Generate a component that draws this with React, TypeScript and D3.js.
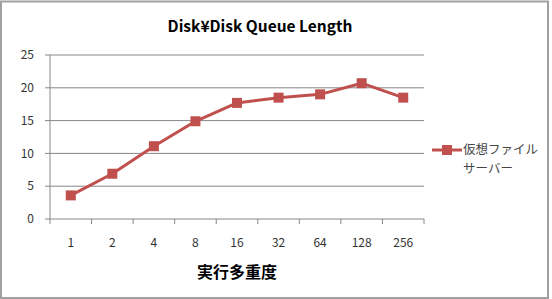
import React from "react";
import * as d3 from "d3";

const categories = ["1", "2", "4", "8", "16", "32", "64", "128", "256"];
const values = [3.6, 6.9, 11.1, 14.9, 17.7, 18.5, 19.0, 20.7, 18.5];
const yTicks = [0, 5, 10, 15, 20, 25];
const seriesName = ["仮想ファイル", "サーバー"];
const title = "Disk¥Disk Queue Length";
const xTitle = "実行多重度";

const W = 552;
const H = 299;
const color = "#C0504D";
const axisColor = "#868686";
const font = "'Noto Sans CJK JP', 'Open Sans', sans-serif";

export default function App() {
  const left = 50, right = 424, top = 55, bottom = 219;
  const x = d3.scaleBand<string>().domain(categories).range([left, right]);
  const y = d3.scaleLinear().domain([0, 25]).range([bottom, top]);
  const line = d3
    .line<number>()
    .x((_, i) => (x(categories[i]) as number) + x.bandwidth() / 2)
    .y((d) => y(d));
  const bounds = categories.map((c) => x(c) as number).concat([right]);
  return (
    <svg
      width={W}
      height={H}
      style={{ position: "absolute", left: 0, top: 0, background: "#fff" }}
    >
      <rect x={1} y={1.5} width={547} height={296.5} fill="#fff" stroke="#a0a0a0" strokeWidth={2} />
      <text
        x={260}
        y={32}
        textAnchor="middle"
        fontFamily={font}
        fontWeight="bold"
        fontSize={15.5}
        fill="#000"
      >
        {title}
      </text>
      {yTicks.map((t) => (
        <g key={t}>
          {t > 0 && (
            <line x1={left} x2={right} y1={y(t)} y2={y(t)} stroke={axisColor} strokeWidth={1} />
          )}
          <line x1={left - 5} x2={left} y1={y(t)} y2={y(t)} stroke={axisColor} />
          <text
            x={34}
            y={y(t)}
            dy="0.35em"
            textAnchor="end"
            fontFamily={font}
            fontSize={12}
            fill="#333"
          >
            {t}
          </text>
        </g>
      ))}
      <line x1={left} x2={left} y1={top} y2={bottom} stroke={axisColor} />
      <line x1={left} x2={right} y1={bottom} y2={bottom} stroke={axisColor} />
      {bounds.map((b, i) => (
        <line key={i} x1={b} x2={b} y1={bottom} y2={bottom + 5} stroke={axisColor} />
      ))}
      {categories.map((c) => (
        <text
          key={c}
          x={(x(c) as number) + x.bandwidth() / 2}
          y={243}
          dy="0.35em"
          textAnchor="middle"
          fontFamily={font}
          fontSize={12}
          fill="#333"
        >
          {c}
        </text>
      ))}
      <text
        x={(left + right) / 2}
        y={272}
        dy="0.35em"
        textAnchor="middle"
        fontFamily={font}
        fontWeight="bold"
        fontSize={16}
        fill="#000"
      >
        {xTitle}
      </text>
      <path d={line(values) || ""} fill="none" stroke={color} strokeWidth={3} strokeLinejoin="round" />
      {values.map((v, i) => (
        <rect
          key={i}
          x={(x(categories[i]) as number) + x.bandwidth() / 2 - 5}
          y={y(v) - 5}
          width={10}
          height={10}
          fill={color}
        />
      ))}
      <line x1={432} x2={462} y1={150} y2={150} stroke={color} strokeWidth={3} />
      <rect x={442} y={145} width={10} height={10} fill={color} />
      {seriesName.map((s, i) => (
        <text
          key={i}
          x={463}
          y={150 + i * 19}
          dy="0.35em"
          fontFamily={font}
          fontSize={12.5}
          fill="#444"
        >
          {s}
        </text>
      ))}
    </svg>
  );
}
